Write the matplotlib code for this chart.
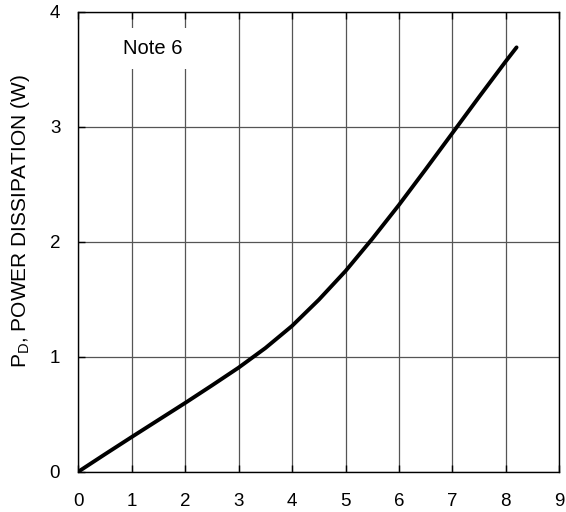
import numpy as np
import matplotlib
matplotlib.use('Agg')
import matplotlib.pyplot as plt

plt.rcParams['font.family'] = ['Liberation Sans', 'DejaVu Sans']
plt.rcParams['font.size'] = 13.5

# values
current = [0, 0.5, 1, 1.5, 2, 2.5, 3, 3.5, 4, 4.5, 5, 5.5, 6, 6.5, 7, 7.5, 8, 8.2]
power = [0, 0.152, 0.302, 0.45, 0.598, 0.75, 0.905, 1.075, 1.268, 1.495,
         1.745, 2.025, 2.32, 2.63, 2.945, 3.26, 3.57, 3.69]

x_ticks = list(range(0, 10))
y_ticks = list(range(0, 5))

fig = plt.figure(figsize=(5.66, 5.12), dpi=100)
ax = fig.add_axes([0.1383, 0.0787, 0.8499, 0.8984])

ax.plot(current, power, color='black', linewidth=2.8, solid_capstyle='round')

ax.set_xlim(0, 9)
ax.set_ylim(0, 4)
ax.set_xticks(x_ticks)
ax.set_yticks(y_ticks)
ax.grid(True, color='#555555', linewidth=0.9)
ax.tick_params(direction='in', length=5, width=1, top=True, right=False,
               colors='black', labelsize=13.5)
ax.tick_params(axis='x', pad=15)
ax.tick_params(axis='y', pad=13)
for s in ax.spines.values():
    s.set_linewidth(1.0)
    s.set_color('black')

ax.text(1.39, 3.68, 'Note 6', ha='center', va='center', fontsize=14.5,
        bbox=dict(facecolor='white', edgecolor='none', pad=8))

ax.set_ylabel('P$_\\mathregular{D}$, POWER DISSIPATION (W)', fontsize=15)
ax.yaxis.set_label_coords(-0.097, 0.545)

fig.savefig('out.png', dpi=100)
